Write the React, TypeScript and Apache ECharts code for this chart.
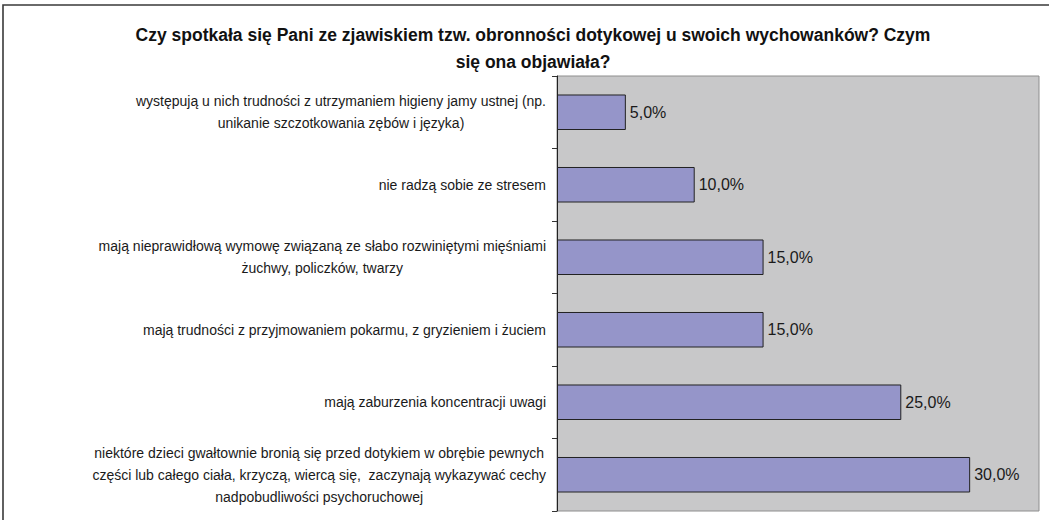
import React, { useEffect, useRef } from "react";
import * as echarts from "echarts";

const TITLE = "Czy spotkała się Pani ze zjawiskiem tzw. obronności dotykowej u swoich wychowanków? Czym\nsię ona objawiała?";

const categories: string[] = [
  "występują u nich trudności z utrzymaniem higieny jamy ustnej (np.\nunikanie szczotkowania zębów i języka)",
  "nie radzą sobie ze stresem",
  "mają nieprawidłową wymowę związaną ze słabo rozwiniętymi mięśniami\nżuchwy, policzków, twarzy",
  "mają trudności z przyjmowaniem pokarmu, z gryzieniem i żuciem",
  "mają zaburzenia koncentracji uwagi",
  "niektóre dzieci gwałtownie bronią się przed dotykiem w obrębie pewnych\nczęści lub całego ciała, krzyczą, wiercą się,  zaczynają wykazywać cechy\nnadpobudliwości psychoruchowej",
];

const values: number[] = [5, 10, 15, 15, 25, 30];

const FONT = "'Liberation Sans', Arial, sans-serif";

export default function App() {
  const ref = useRef<HTMLDivElement>(null);
  useEffect(() => {
    if (!ref.current) return;
    const chart = echarts.init(ref.current, undefined, { renderer: "svg" });
    chart.setOption({
      animation: false,
      backgroundColor: "#ffffff",
      textStyle: { fontFamily: FONT },
      title: {
        text: TITLE,
        left: 528,
        top: 16,
        textAlign: "center",
        textStyle: {
          fontFamily: FONT,
          fontSize: 17.5,
          fontWeight: "bold",
          color: "#111",
          lineHeight: 27,
        },
      },
      graphic: [
        {
          type: "rect",
          shape: { x: 3, y: 5, width: 1100, height: 600 },
          style: { fill: "none", stroke: "#3a3a3a", lineWidth: 1.6 },
          silent: true,
          z: 100,
        },
      ],
      grid: {
        left: 557,
        right: 10,
        top: 76,
        bottom: 9,
        show: true,
        backgroundColor: "#c8c8c9",
        borderColor: "#8e8e8e",
        borderWidth: 1,
      },
      xAxis: {
        type: "value",
        min: 0,
        max: 35,
        show: false,
        splitLine: { show: false },
      },
      yAxis: {
        type: "category",
        data: categories,
        inverse: true,
        axisLine: { show: true, lineStyle: { color: "#222", width: 1 } },
        axisTick: { show: true, length: 5, lineStyle: { color: "#333" } },
        axisLabel: {
          margin: 11,
          align: "right",
          formatter: (v: string) =>
            v
              .split("\n")
              .map((l) => `{c|${l}}`)
              .join("\n"),
          rich: {
            c: {
              align: "center",
              fontFamily: FONT,
              fontSize: 14,
              lineHeight: 22,
              color: "#1a1a1a",
            },
          },
        },
      },
      series: [
        {
          type: "bar",
          data: values,
          barCategoryGap: "51%",
          itemStyle: { color: "#9595c9", borderColor: "#222", borderWidth: 1 },
          label: {
            show: true,
            position: "right",
            distance: 4,
            fontFamily: FONT,
            fontSize: 16,
            color: "#1a1a1a",
            formatter: (p: any) => p.value.toFixed(1).replace(".", ",") + "%",
          },
        },
      ],
    });
    return () => chart.dispose();
  }, []);
  return (
    <div
      ref={ref}
      style={{ position: "fixed", left: 0, top: 0, width: 1049, height: 520 }}
    />
  );
}
